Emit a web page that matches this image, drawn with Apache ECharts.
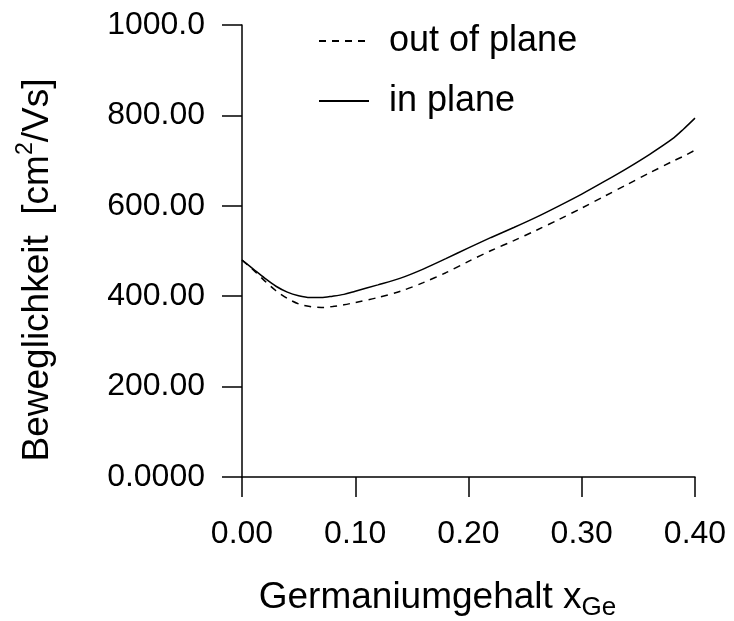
<!DOCTYPE html>
<html>
<head>
<meta charset="utf-8">
<script src="https://cdn.jsdelivr.net/npm/echarts@6/dist/echarts.min.js"></script>
<style>
  html, body { margin: 0; padding: 0; background: #ffffff; }
  #chart { width: 734px; height: 621px; }
</style>
</head>
<body>
<div id="chart"></div>
<script>
// ---- data ----
const xGe = [0, 0.01, 0.02, 0.03, 0.04, 0.05, 0.06, 0.07, 0.08, 0.09, 0.10,
             0.12, 0.14, 0.16, 0.18, 0.20, 0.22, 0.24, 0.26, 0.28, 0.30,
             0.32, 0.34, 0.36, 0.38, 0.39, 0.40];
const outOfPlane = [480, 458, 434, 412, 395, 383, 377, 375, 377, 381, 386,
                    397, 411, 430, 452, 477, 501, 523, 546, 570, 595,
                    621, 647, 673, 698, 710, 723];
const inPlane = [480, 460, 440, 422, 409, 401, 397, 397, 400, 404, 411,
                 425, 440, 460, 483, 507, 530, 552, 575, 600, 626,
                 654, 683, 714, 748, 770, 794];
const xTickLabels = ['0.00', '0.10', '0.20', '0.30', '0.40'];
const yTickLabels = ['0.0000', '200.00', '400.00', '600.00', '800.00', '1000.0'];
const seriesNames = ['out of plane', 'in plane'];

const FONT = 'Liberation Sans, Arial, Helvetica, sans-serif';
const pairs = (ys) => xGe.map((x, i) => [x, ys[i]]);

const chart = echarts.init(document.getElementById('chart'), null, { renderer: 'canvas' });
chart.setOption({
  animation: false,
  backgroundColor: '#ffffff',
  grid: { left: 242, right: 39, top: 25, bottom: 144, containLabel: false, outerBoundsMode: 'none' },
  legend: {
    orient: 'vertical',
    left: 318,
    top: 23,
    padding: 0,
    itemWidth: 50,
    itemHeight: 14,
    itemGap: 24,
    itemStyle: { opacity: 0 },
    textStyle: { fontFamily: FONT, fontSize: 36, lineHeight: 36, color: '#000', padding: [0, 0, 0, 15] },
    data: seriesNames
  },
  xAxis: {
    type: 'value',
    min: 0, max: 0.4, interval: 0.1,
    axisLine: { show: true, lineStyle: { color: '#000', width: 1.5 } },
    axisTick: { show: true, length: 20, lineStyle: { color: '#000', width: 1.5 } },
    splitLine: { show: false },
    axisLabel: {
      margin: 41, fontFamily: FONT, fontSize: 32, color: '#000',
      formatter: (v) => xTickLabels[Math.round(v / 0.1)]
    },
    name: '{a|Germaniumgehalt x}{b|Ge}',
    nameLocation: 'middle',
    nameGap: 98,
    nameTextStyle: {
      padding: [0, 62, 0, 0],
      rich: {
        a: { fontFamily: FONT, fontSize: 37, color: '#000' },
        b: { fontFamily: FONT, fontSize: 26, color: '#000', padding: [20, 0, 0, 0] }
      }
    }
  },
  yAxis: {
    type: 'value',
    min: 0, max: 1000, interval: 200,
    axisLine: { show: true, lineStyle: { color: '#000', width: 1.5 } },
    axisTick: { show: true, length: 20, lineStyle: { color: '#000', width: 1.5 } },
    splitLine: { show: false },
    axisLabel: {
      margin: 37, fontFamily: FONT, fontSize: 32, color: '#000',
      formatter: (v) => yTickLabels[Math.round(v / 200)]
    },
    name: '{a|Beweglichkeit  [cm}{s|2}{a|/Vs]}',
    nameLocation: 'middle',
    nameGap: 181,
    nameRotate: 90,
    nameTextStyle: {
      padding: [0, 38, 0, 0],
      rich: {
        a: { fontFamily: FONT, fontSize: 37, color: '#000' },
        s: { fontFamily: FONT, fontSize: 23, color: '#000', padding: [0, 0, 24, 0] }
      }
    }
  },
  series: [
    {
      name: seriesNames[0],
      type: 'line',
      data: pairs(outOfPlane),
      smooth: 0.3,
      symbol: 'none',
      lineStyle: { color: '#000', width: 1.5, type: [7, 6] },
      itemStyle: { color: '#000' }
    },
    {
      name: seriesNames[1],
      type: 'line',
      data: pairs(inPlane),
      smooth: 0.3,
      symbol: 'none',
      lineStyle: { color: '#000', width: 1.5, type: 'solid' },
      itemStyle: { color: '#000' }
    }
  ]
});
</script>
</body>
</html>
